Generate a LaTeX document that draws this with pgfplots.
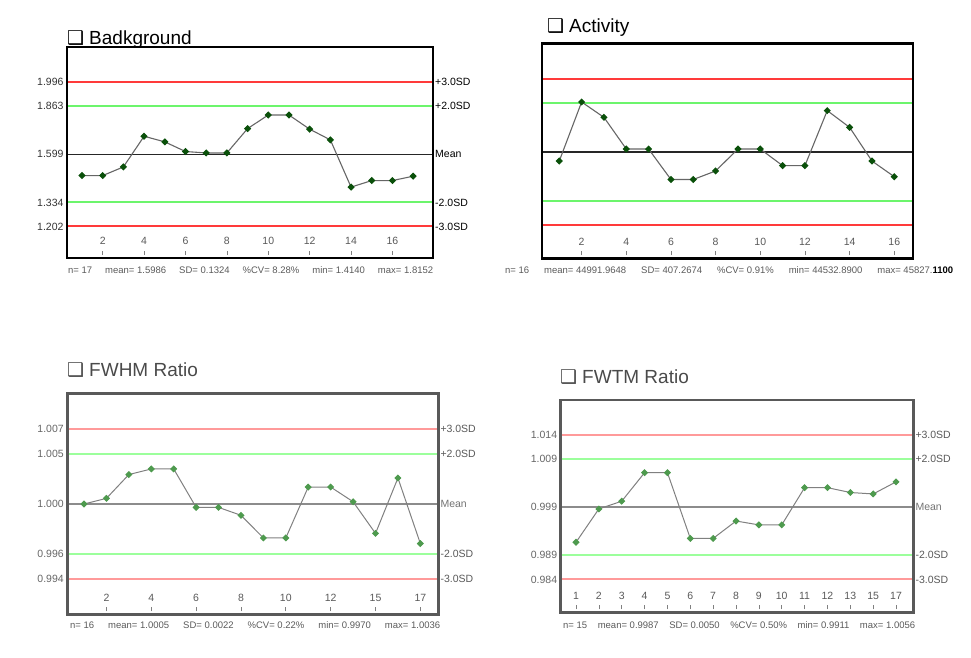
\documentclass[border=0pt]{standalone}
\usepackage{pgfplots}
\pgfplotsset{compat=1.18}
\usepackage{fontspec}
\setmainfont{Liberation Sans}
\newfontfamily\symfont{DejaVu Sans}
\definecolor{qred}{HTML}{FF3A3A}
\definecolor{qgreen}{HTML}{6CF56C}
\definecolor{qredl}{HTML}{FF9A9A}
\definecolor{qgreenl}{HTML}{9CFF9C}
\definecolor{mk}{HTML}{0A500A}
\definecolor{mkl}{HTML}{4E9A4E}
\definecolor{ttl}{HTML}{4A4A4A}
\definecolor{foot}{HTML}{5A5A5A}

\pgfplotsset{
  qc/.style={
    scale only axis, anchor=south west, clip=false,
    axis line style={line width=2.8pt},
    tick align=inside, major tick length=4pt,
    xtick pos=bottom, ytick pos=left,
    xtick style={yshift=3pt, draw=gray, line width=0.7pt},
    ytick style={draw=none},
    xticklabel style={anchor=base, yshift=13pt, font=\fontsize{10.5}{12}\selectfont, text=black!65},
    yticklabel style={font=\fontsize{10.5}{12}\selectfont, text=black!80},
    /pgf/number format/assume math mode=true,
  },
  dataline/.style={color=black!60, line width=1.1pt, mark=square*, mark size=2.0pt,
    mark options={fill=mk, draw=mk, solid, rotate=45}},
  datalinel/.style={color=black!50, line width=1.0pt, mark=square*, mark size=2.0pt,
    mark options={fill=mkl, draw=mkl, solid, rotate=45}},
  rline/.style={qred, line width=2pt},
  gline/.style={qgreen, line width=2.2pt},
  rlinel/.style={qredl, line width=2pt},
  glinel/.style={qgreenl, line width=2.2pt},
}
\newcommand{\rl}[1]{{\fontsize{10.5}{12}\selectfont #1}}

\begin{document}
\begin{tikzpicture}[x=1pt,y=1pt]
\path[use as bounding box] (0,0) rectangle (971,657);

% ---------------- Panel 1: Badkground ----------------
\node[anchor=base west, inner sep=0, font=\fontsize{19}{22}\selectfont] at (67,612)
  {{\symfont ❑}\hspace{5pt}Badkground};
\begin{axis}[qc, at={(67pt,399pt)}, width=366pt, height=211pt,
  axis line style={line width=2.8pt, black},
  xmin=0.275, xmax=17.96, ymin=1.0276, ymax=2.1895,
  xtick={2,4,...,16},
  ytick={1.2014,1.3338,1.5986,1.8634,1.9958},
  yticklabels={1.202,1.334,1.599,1.863,1.996}]
\addplot[rline] coordinates {(0.33,1.9958) (17.9,1.9958)};
\addplot[gline] coordinates {(0.33,1.8634) (17.9,1.8634)};
\addplot[black!85, line width=1.3pt] coordinates {(0.33,1.5986) (17.9,1.5986)};
\addplot[gline] coordinates {(0.33,1.3338) (17.9,1.3338)};
\addplot[rline] coordinates {(0.33,1.2014) (17.9,1.2014)};
\addplot[dataline] coordinates {
(1,1.4815) (2,1.4815) (3,1.529) (4,1.698) (5,1.667) (6,1.614) (7,1.606) (8,1.606)
(9,1.740) (10,1.815) (11,1.815) (12,1.737) (13,1.678) (14,1.418) (15,1.454) (16,1.454) (17,1.478)};
\node[anchor=west, inner sep=1pt, xshift=1pt] at (axis cs:17.96,1.9958) {\rl{+3.0SD}};
\node[anchor=west, inner sep=1pt, xshift=1pt] at (axis cs:17.96,1.8634) {\rl{+2.0SD}};
\node[anchor=west, inner sep=1pt, xshift=1pt] at (axis cs:17.96,1.5986) {\rl{Mean}};
\node[anchor=west, inner sep=1pt, xshift=1pt] at (axis cs:17.96,1.3338) {\rl{-2.0SD}};
\node[anchor=west, inner sep=1pt, xshift=1pt] at (axis cs:17.96,1.2014) {\rl{-3.0SD}};
\end{axis}
\node[anchor=base west, inner sep=0, font=\fontsize{9.5}{11}\selectfont, text=foot] at (68,384)
  {\makebox[365pt]{n= 17\hfill mean= 1.5986\hfill SD= 0.1324\hfill \%CV= 8.28\%\hfill min= 1.4140\hfill max= 1.8152}};

% ---------------- Panel 2: Activity ----------------
\node[anchor=base west, inner sep=0, font=\fontsize{19}{22}\selectfont] at (547,624.5)
  {{\symfont ❑}\hspace{5pt}Activity};
\begin{axis}[qc, at={(542pt,398.7pt)}, width=371pt, height=215pt,
  axis line style={line width=2.8pt, black},
  xmin=0.226, xmax=16.84, ymin=43216.8, ymax=46807.5,
  xtick={2,4,...,16}, ytick=\empty]
\addplot[rline] coordinates {(0.28,46213.8) (16.8,46213.8)};
\addplot[gline] coordinates {(0.28,45806.5) (16.8,45806.5)};
\addplot[black!85, line width=1.3pt] coordinates {(0.28,44991.96) (16.8,44991.96)};
\addplot[gline] coordinates {(0.28,44177.4) (16.8,44177.4)};
\addplot[rline] coordinates {(0.28,43770.1) (16.8,43770.1)};
\addplot[dataline] coordinates {
(1,44842) (2,45827) (3,45571) (4,45042) (5,45042) (6,44533) (7,44533) (8,44675)
(9,45042) (10,45042) (11,44764) (12,44764) (13,45683) (14,45404) (15,44842) (16,44580)};
\end{axis}
\node[anchor=base west, inner sep=0, font=\fontsize{9.5}{11}\selectfont, text=foot] at (505,384)
  {\makebox[448pt]{n= 16\hfill mean= 44991.9648\hfill SD= 407.2674\hfill \%CV= 0.91\%\hfill min= 44532.8900\hfill max= 45827.{\color{black}\bfseries 1100}}};

% ---------------- Panel 3: FWHM Ratio ----------------
\node[anchor=base west, inner sep=0, font=\fontsize{19}{22}\selectfont, text=ttl] at (67,280.3)
  {{\symfont ❑}\hspace{5pt}FWHM Ratio};
\begin{axis}[qc, at={(67.3pt,42.7pt)}, width=371pt, height=221pt,
  axis line style={line width=2.8pt, black!65},
  yticklabel style={text=black!60},
  xmin=0.255, xmax=16.80, ymin=0.990748, ymax=1.010287,
  xtick={2,4,...,16}, xticklabels={2,4,6,8,10,12,15,17},
  ytick={0.9939,0.9961,1.0005,1.0049,1.0071},
  yticklabels={0.994,0.996,1.000,1.005,1.007}]
\addplot[rlinel] coordinates {(0.31,1.0071) (16.76,1.0071)};
\addplot[glinel] coordinates {(0.31,1.0049) (16.76,1.0049)};
\addplot[black!45, line width=1.3pt] coordinates {(0.31,1.0005) (16.76,1.0005)};
\addplot[glinel] coordinates {(0.31,0.9961) (16.76,0.9961)};
\addplot[rlinel] coordinates {(0.31,0.9939) (16.76,0.9939)};
\addplot[datalinel] coordinates {
(1,1.0005) (2,1.0010) (3,1.0031) (4,1.0036) (5,1.0036) (6,1.0002) (7,1.0002) (8,0.9995)
(9,0.9975) (10,0.9975) (11,1.0020) (12,1.0020) (13,1.0007) (14,0.9979) (15,1.0028) (16,0.9970)};
\node[anchor=west, inner sep=1pt, xshift=1pt, text=black!65] at (axis cs:16.80,1.0071) {\rl{+3.0SD}};
\node[anchor=west, inner sep=1pt, xshift=1pt, text=black!65] at (axis cs:16.80,1.0049) {\rl{+2.0SD}};
\node[anchor=west, inner sep=1pt, xshift=1pt, text=black!55] at (axis cs:16.80,1.0005) {\rl{Mean}};
\node[anchor=west, inner sep=1pt, xshift=1pt, text=black!65] at (axis cs:16.80,0.9961) {\rl{-2.0SD}};
\node[anchor=west, inner sep=1pt, xshift=1pt, text=black!65] at (axis cs:16.80,0.9939) {\rl{-3.0SD}};
\end{axis}
\node[anchor=base west, inner sep=0, font=\fontsize{9.5}{11}\selectfont, text=foot] at (70,28.5)
  {\makebox[370pt]{n= 16\hfill mean= 1.0005\hfill SD= 0.0022\hfill \%CV= 0.22\%\hfill min= 0.9970\hfill max= 1.0036}};

% ---------------- Panel 4: FWTM Ratio ----------------
\node[anchor=base west, inner sep=0, font=\fontsize{19}{22}\selectfont, text=ttl] at (560,273.7)
  {{\symfont ❑}\hspace{5pt}FWTM Ratio};
\begin{axis}[qc, at={(560.7pt,44.7pt)}, width=352.6pt, height=212.3pt,
  axis line style={line width=2.8pt, black!65},
  yticklabel style={text=black!60},
  xmin=0.331, xmax=15.755, ymin=0.97691, ymax=1.02084,
  xtick={1,...,15}, xticklabels={1,2,3,4,5,6,7,8,9,10,11,12,13,15,17},
  ytick={0.9837,0.9887,0.9987,1.0087,1.0137},
  yticklabels={0.984,0.989,0.999,1.009,1.014}]
\addplot[rlinel] coordinates {(0.38,1.0137) (15.71,1.0137)};
\addplot[glinel] coordinates {(0.38,1.0087) (15.71,1.0087)};
\addplot[black!45, line width=1.3pt] coordinates {(0.38,0.9987) (15.71,0.9987)};
\addplot[glinel] coordinates {(0.38,0.9887) (15.71,0.9887)};
\addplot[rlinel] coordinates {(0.38,0.9837) (15.71,0.9837)};
\addplot[datalinel] coordinates {
(1,0.9914) (2,0.9983) (3,0.9999) (4,1.0058) (5,1.0058) (6,0.9922) (7,0.9922) (8,0.9958)
(9,0.9950) (10,0.9950) (11,1.0027) (12,1.0027) (13,1.0017) (14,1.0014) (15,1.0039)};
\node[anchor=west, inner sep=1pt, xshift=1pt, text=black!65] at (axis cs:15.755,1.0137) {\rl{+3.0SD}};
\node[anchor=west, inner sep=1pt, xshift=1pt, text=black!65] at (axis cs:15.755,1.0087) {\rl{+2.0SD}};
\node[anchor=west, inner sep=1pt, xshift=1pt, text=black!55] at (axis cs:15.755,0.9987) {\rl{Mean}};
\node[anchor=west, inner sep=1pt, xshift=1pt, text=black!65] at (axis cs:15.755,0.9887) {\rl{-2.0SD}};
\node[anchor=west, inner sep=1pt, xshift=1pt, text=black!65] at (axis cs:15.755,0.9837) {\rl{-3.0SD}};
\end{axis}
\node[anchor=base west, inner sep=0, font=\fontsize{9.5}{11}\selectfont, text=foot] at (563,28.5)
  {\makebox[352pt]{n= 15\hfill mean= 0.9987\hfill SD= 0.0050\hfill \%CV= 0.50\%\hfill min= 0.9911\hfill max= 1.0056}};
\end{tikzpicture}
\end{document}
